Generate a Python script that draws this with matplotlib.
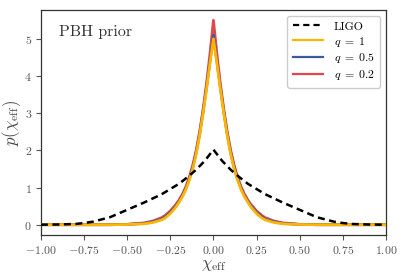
import numpy as np
import matplotlib
matplotlib.use('Agg')
import matplotlib.pyplot as plt

plt.rcParams['font.family'] = 'serif'
plt.rcParams['font.serif'] = ['cmr10']
plt.rcParams['mathtext.fontset'] = 'cm'
plt.rcParams['axes.formatter.use_mathtext'] = True
plt.rcParams['axes.unicode_minus'] = True

# LIGO prior (one half, symmetric about zero)
ligo_x = [0, 0.05, 0.1, 0.15, 0.2, 0.25, 0.3, 0.4, 0.5, 0.6, 0.7, 0.75, 0.8, 0.9, 1.0]
ligo_y = [2.02, 1.72, 1.48, 1.28, 1.1, 0.96, 0.82, 0.6, 0.4, 0.2, 0.08, 0.045, 0.02, 0.005, 0.0]

# PBH priors (one half, symmetric about zero)
pbh_x = [0, 0.02, 0.04, 0.06, 0.08, 0.10, 0.12, 0.14, 0.16, 0.18, 0.20, 0.22,
         0.25, 0.28, 0.30, 0.35, 0.40, 0.50, 0.60, 1.0]
q1_y = [5.0, 4.35, 3.65, 3.0, 2.4, 1.9, 1.5, 1.2, 0.95, 0.75, 0.6, 0.46,
        0.3, 0.18, 0.13, 0.06, 0.025, 0.005, 0.0, 0.0]
q05_y = [5.1, 4.4, 3.7, 3.04, 2.44, 1.94, 1.54, 1.23, 0.98, 0.78, 0.62, 0.49,
         0.33, 0.21, 0.15, 0.08, 0.035, 0.007, 0.0, 0.0]
q02_y = [5.5, 4.6, 3.8, 3.1, 2.5, 2.0, 1.6, 1.28, 1.02, 0.82, 0.66, 0.53,
         0.37, 0.25, 0.19, 0.1, 0.05, 0.01, 0.0, 0.0]


def mirror(x, y):
    x = np.asarray(x)
    y = np.asarray(y)
    return np.concatenate([-x[::-1], x[1:]]), np.concatenate([y[::-1], y[1:]])


fig = plt.figure(figsize=(4.05, 2.8), dpi=100)
ax = fig.add_axes([0.101, 0.161, 0.852, 0.803])

h_ligo, = ax.plot(*mirror(ligo_x, ligo_y), color='black', lw=1.8, ls='--',
                  dashes=(2.8, 1.8), label='LIGO', zorder=5)
h_q02, = ax.plot(*mirror(pbh_x, q02_y), color='#e0474c', lw=2.0, label=r'$q\;=\;0.2$', zorder=2)
h_q05, = ax.plot(*mirror(pbh_x, q05_y), color='#3b5b9d', lw=2.0, label=r'$q\;=\;0.5$', zorder=3)
h_q1, = ax.plot(*mirror(pbh_x, q1_y), color='#ffb400', lw=2.0, label=r'$q\;=\;1$', zorder=4)

ax.set_xlim(-1, 1)
ax.set_xticks(np.arange(-1, 1.01, 0.25))
ax.xaxis.set_major_formatter(plt.FuncFormatter(lambda v, p: r'$%.2f$' % v if abs(v) > 1e-9 else r'$0.00$'))
ax.set_yticks([0, 1, 2, 3, 4, 5])

ax.set_xlabel(r'$\chi_{\rm eff}$', fontsize=12, color='#444444', labelpad=1)
ax.set_ylabel(r'$p(\chi_{\rm eff})$', fontsize=12, color='#444444', labelpad=1)
ax.tick_params(labelsize=8.5, colors='#555555', length=3.5, width=0.8, pad=3)
for s in ax.spines.values():
    s.set_color('#333333')
    s.set_linewidth(0.9)

ax.text(0.052, 0.885, 'PBH prior', transform=ax.transAxes, fontsize=11.5, color='#333333')

leg = ax.legend(handles=[h_ligo, h_q1, h_q05, h_q02], loc='upper right', fontsize=8.5,
                framealpha=1, edgecolor='#cccccc', handlelength=2.6, borderpad=0.45,
                labelspacing=0.25, handletextpad=0.9, borderaxespad=0.5)
for line in leg.get_lines():
    line.set_linewidth(1.6)

fig.savefig('out.png', dpi=100)
